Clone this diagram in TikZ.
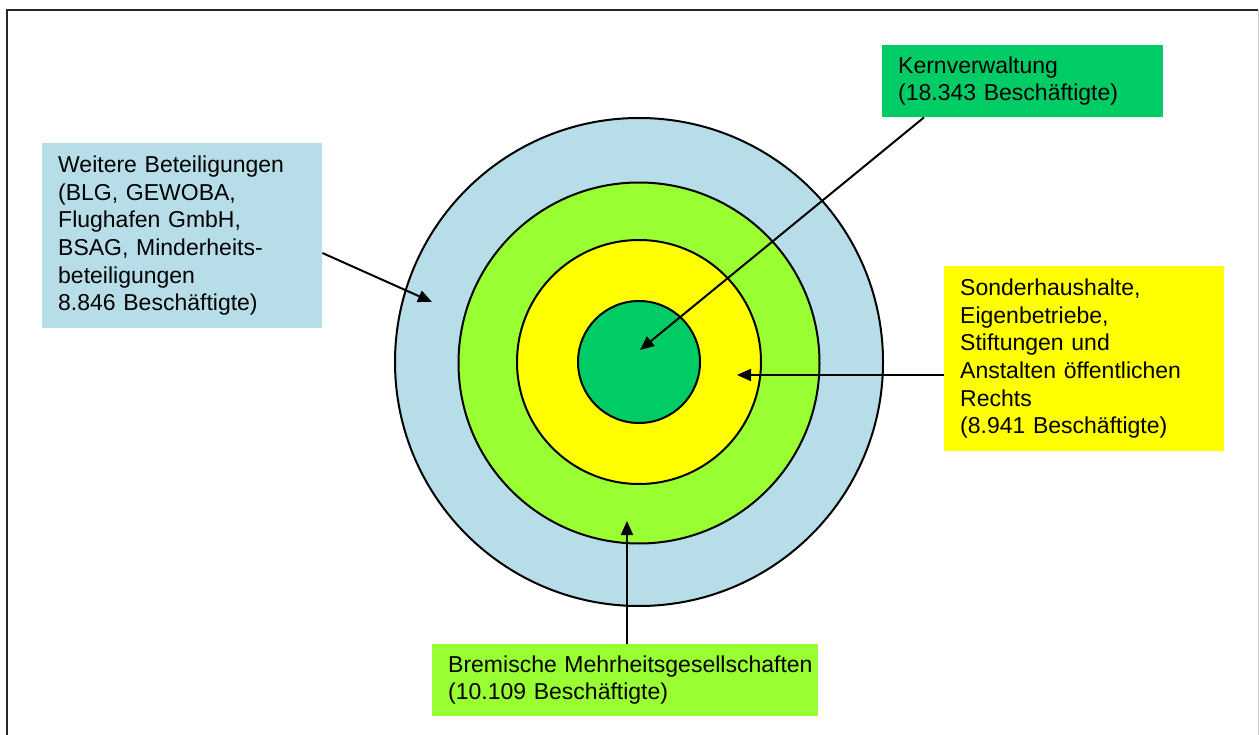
\documentclass[tikz,border=0pt]{standalone}
\usepackage{fontspec}
\setmainfont{Liberation Sans}
\usetikzlibrary{arrows.meta,calc}
\definecolor{kerngreen}{RGB}{0,204,102}
\definecolor{lightblue}{RGB}{183,222,232}
\definecolor{brightgreen}{RGB}{153,255,51}
\definecolor{yel}{RGB}{255,255,0}
\tikzset{
  infobox/.style={anchor=north west, inner xsep=16pt, inner ysep=0pt, align=left,
    font=\fontsize{23}{27.7}\selectfont},
  ring/.style={circle, draw=black, line width=2pt, inner sep=0pt},
  pointer/.style={draw=black, line width=2pt, -{Triangle[length=14pt,width=12pt]}}
}
\begin{document}
\begin{tikzpicture}[x=1pt,y=-1pt]
\useasboundingbox (0,0) rectangle (1259,735);
% frame
\draw[line width=2pt, black!85] (7,736) -- (7,10) -- (1258,10);
\draw[line width=1pt, black!20] (1258,10) -- (1258,736);
% rings
\node[ring, fill=lightblue, minimum size=488pt] (outer) at (639,362) {};
\node[ring, fill=brightgreen, minimum size=361pt] (mid) at (639,363) {};
\node[ring, fill=yel, minimum size=244pt] (inner) at (639,362) {};
\node[ring, fill=kerngreen, minimum size=122pt] (core) at (639,362) {};
% boxes
\node[infobox, fill=kerngreen, text width=249pt, minimum height=72pt] (kern) at (882,45)
  {Kernverwaltung\\(18.343 Beschäftigte)};
\node[infobox, fill=lightblue, text width=248pt, minimum height=185pt] (weitere) at (42,143)
  {Weitere Beteiligungen\\(BLG, GEWOBA,\\Flughafen GmbH,\\BSAG, Minderheits-\\beteiligungen\\8.846 Beschäftigte)};
\node[infobox, fill=yel, text width=248pt, minimum height=185pt] (sonder) at (944,266)
  {Sonderhaushalte,\\Eigenbetriebe,\\Stiftungen und\\Anstalten öffentlichen\\Rechts\\(8.941 Beschäftigte)};
\node[infobox, fill=brightgreen, text width=354pt, minimum height=72pt] (brem) at (432,644)
  {\mbox{Bremische Mehrheitsgesellschaften}\\(10.109 Beschäftigte)};
% arrow tips
\coordinate (tipkern) at (640,350);
\coordinate (tipweitere) at (432,302);
\coordinate (tipsonder) at (737,375);
\coordinate (tipbrem) at (627,521);
% arrows
\draw[pointer] ($(kern.south west)+(42,0)$) -- (tipkern);
\draw[pointer] ($(weitere.north east)+(0,110)$) -- (tipweitere);
\draw[pointer] ($(sonder.north west)+(0,109)$) -- (tipsonder);
\draw[pointer] ($(brem.north west)+(195,0)$) -- (tipbrem);
\end{tikzpicture}
\end{document}
